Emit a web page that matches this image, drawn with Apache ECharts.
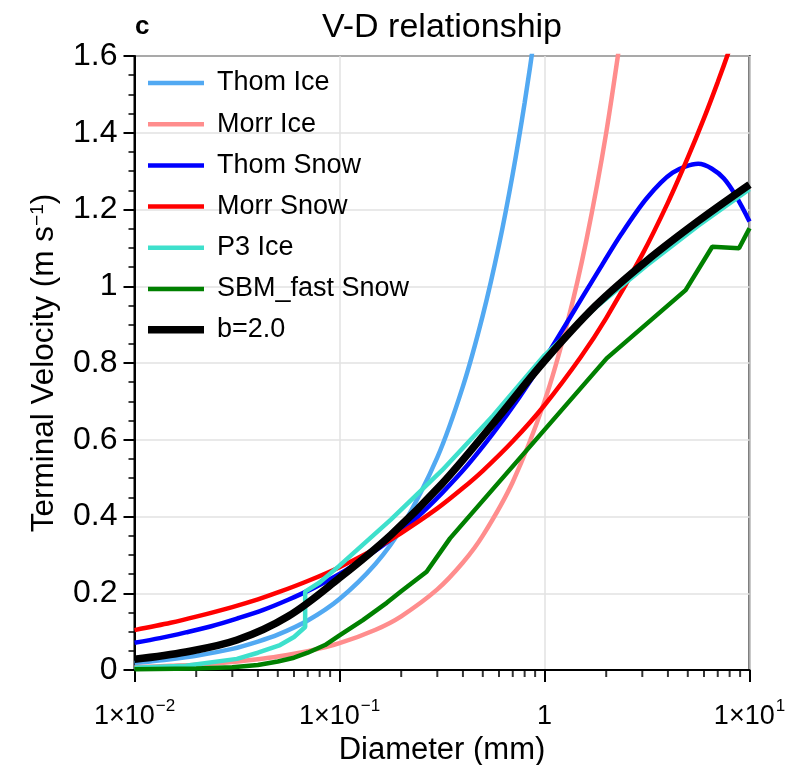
<!DOCTYPE html>
<html>
<head>
<meta charset="utf-8">
<script src="https://cdn.jsdelivr.net/npm/echarts@6/dist/echarts.min.js"></script>
<style>
  html, body { margin: 0; padding: 0; background: #fff; }
  #chart { width: 792px; height: 765px; }
</style>
</head>
<body>
<div id="chart"></div>
<script>
// Terminal fall speed (m/s) against particle diameter (mm) for several schemes.
const thomIceD = [0.01, 0.015, 0.02, 0.03, 0.04, 0.05, 0.07, 0.1, 0.15, 0.2, 0.3, 0.4, 0.5, 0.6, 0.7, 0.8, 0.9, 1.0];
const thomIceV = [0.018, 0.028, 0.037, 0.055, 0.074, 0.092, 0.129, 0.185, 0.277, 0.369, 0.554, 0.739, 0.924, 1.108, 1.293, 1.478, 1.663, 1.848];

const morrIceD = [0.01, 0.015, 0.02, 0.03, 0.04, 0.05, 0.07, 0.1, 0.15, 0.2, 0.3, 0.4, 0.5, 0.7, 1.0, 1.3, 1.6, 2.0, 2.5];
const morrIceV = [0.007, 0.011, 0.014, 0.021, 0.028, 0.035, 0.049, 0.07, 0.105, 0.14, 0.21, 0.28, 0.35, 0.49, 0.70, 0.91, 1.12, 1.40, 1.75];

const thomSnowD = [0.01, 0.0133, 0.0178, 0.0237, 0.0316, 0.0422, 0.0562, 0.075, 0.1, 0.133, 0.178, 0.237, 0.316, 0.422, 0.562, 0.75,
                   1.0, 1.33, 1.78, 2.37, 3.16, 4.22, 5.62, 7.5, 10];
const thomSnowV = [0.071, 0.083, 0.098, 0.114, 0.134, 0.156, 0.183, 0.214, 0.250, 0.292, 0.340, 0.396, 0.461, 0.534, 0.617, 0.709,
                   0.810, 0.918, 1.029, 1.136, 1.230, 1.296, 1.319, 1.281, 1.169];

const morrSnowD = [0.01, 0.015, 0.02, 0.03, 0.04, 0.05, 0.07, 0.1, 0.15, 0.2, 0.3, 0.4, 0.5, 0.7, 1.0, 1.5, 2, 3, 4, 5, 6, 7, 8, 9];
const morrSnowV = [0.104, 0.123, 0.139, 0.164, 0.184, 0.202, 0.232, 0.268, 0.317, 0.357, 0.421, 0.474, 0.519, 0.596, 0.690, 0.815, 0.917, 1.083, 1.218, 1.335, 1.438, 1.532, 1.618, 1.699];

const p3IceD = [0.01, 0.0178, 0.0316, 0.04, 0.0513, 0.06, 0.068, 0.068, 0.08, 0.1, 0.178, 0.316, 0.562, 1.0, 1.78, 3.16, 5.62, 10];
const p3IceV = [0.006, 0.011, 0.029, 0.045, 0.065, 0.086, 0.112, 0.204, 0.228, 0.272, 0.392, 0.520, 0.663, 0.820, 0.945, 1.055, 1.158, 1.253];

const sbmSnowD = [0.01, 0.02, 0.03, 0.04, 0.05, 0.06, 0.07, 0.085, 0.1, 0.13, 0.17, 0.2, 0.266, 0.346, 2.01, 4.88, 6.58, 8.89, 10];
const sbmSnowV = [0.002, 0.004, 0.007, 0.013, 0.022, 0.032, 0.045, 0.065, 0.09, 0.13, 0.175, 0.205, 0.256, 0.343, 0.812, 0.990, 1.103, 1.099, 1.151];

const b2D = [0.01, 0.0178, 0.0316, 0.0562, 0.1, 0.178, 0.316, 0.562, 1.0, 1.78, 3.16, 5.62, 10];
const b2V = [0.028, 0.047, 0.078, 0.140, 0.240, 0.352, 0.485, 0.642, 0.805, 0.950, 1.067, 1.170, 1.265];

const yTicks = [0, 0.2, 0.4, 0.6, 0.8, 1.0, 1.2, 1.4, 1.6];
const xDecadeLabels = { '0.01': ['1\u00d710', '\u22122'], '0.1': ['1\u00d710', '\u22121'], '1': ['1', ''], '10': ['1\u00d710', '1'] };
const xMinorTicks = [0.02, 0.03, 0.04, 0.05, 0.06, 0.07, 0.08, 0.09,
                     0.2, 0.3, 0.4, 0.5, 0.6, 0.7, 0.8, 0.9,
                     2, 3, 4, 5, 6, 7, 8, 9];

const FONT = '"Liberation Sans", Arial, Helvetica, sans-serif';

function pairs(d, v) { return d.map((x, i) => [x, v[i]]); }

const seriesDefs = [
  { name: 'Thom Ice', d: thomIceD, v: thomIceV, color: '#52a9f2', width: 4.5, smooth: 0.3 },
  { name: 'Morr Ice', d: morrIceD, v: morrIceV, color: '#ff8d8d', width: 4.5, smooth: 0.3 },
  { name: 'Thom Snow', d: thomSnowD, v: thomSnowV, color: '#0000ff', width: 4.5, smooth: 0.3 },
  { name: 'Morr Snow', d: morrSnowD, v: morrSnowV, color: '#ff0000', width: 4.5, smooth: 0.3 },
  { name: 'P3 Ice', d: p3IceD, v: p3IceV, color: '#3ee0cc', width: 4.5, smooth: false },
  { name: 'SBM_fast Snow', d: sbmSnowD, v: sbmSnowV, color: '#008000', width: 4.5, smooth: false },
  { name: 'b=2.0', d: b2D, v: b2V, color: '#000000', width: 7.5, smooth: 0.35 }
];

const legendText = { fontFamily: FONT, fontSize: 27, color: '#000', lineHeight: 30, padding: [0, 0, 0, 8] };

const chart = echarts.init(document.getElementById('chart'), null, { renderer: 'canvas' });

const lineSeries = seriesDefs.map(s => ({
  name: s.name, type: 'line',
  data: pairs(s.d, s.v),
  showSymbol: false, symbol: 'none', clip: true,
  smooth: s.smooth,
  color: s.color,
  lineStyle: { color: s.color, width: s.width },
  emphasis: { disabled: true }
}));

// short minor tick marks hanging below the log axis at 2..9 of each decade
const minorTickSeries = {
  type: 'scatter', clip: false,
  data: xMinorTicks.map(d => [d, 0]),
  symbol: 'rect', symbolSize: [2, 7], symbolOffset: [0, 3.5],
  itemStyle: { color: '#000' }
};

chart.setOption({
  backgroundColor: '#ffffff',
  animation: false,
  textStyle: { fontFamily: FONT },
  title: [
    { text: 'V-D relationship', left: 442, top: 11, textAlign: 'center', padding: 0,
      textStyle: { fontFamily: FONT, fontSize: 34, fontWeight: 'normal', color: '#000' } },
    { text: 'c', left: 135, top: 14, padding: 0,
      textStyle: { fontFamily: FONT, fontSize: 26, fontWeight: 'bold', color: '#000' } }
  ],
  grid: { left: 134.5, right: 42.5, top: 56, bottom: 95, show: true, borderColor: '#000', borderWidth: 2,
          containLabel: false, outerBoundsMode: 'none' },
  legend: [
    {
      orient: 'vertical', left: 148, top: 68, padding: 0,
      icon: 'rect', itemWidth: 56, itemHeight: 4.5, itemGap: 11.2,
      textStyle: legendText,
      data: seriesDefs.slice(0, 6).map(s => s.name)
    },
    {
      orient: 'vertical', left: 148, top: 314.7, padding: 0,
      icon: 'rect', itemWidth: 56, itemHeight: 7.5, itemGap: 11.2,
      textStyle: legendText,
      data: [seriesDefs[6].name]
    }
  ],
  xAxis: {
    type: 'log', logBase: 10, min: 0.01, max: 10, position: 'bottom',
    name: 'Diameter (mm)', nameLocation: 'middle', nameGap: 61,
    nameTextStyle: { fontFamily: FONT, fontSize: 31, color: '#000' },
    axisLine: { show: true, lineStyle: { color: '#000', width: 2 } },
    axisTick: { show: true, inside: false, length: 12, lineStyle: { color: '#000', width: 2 } },
    splitLine: { show: true, lineStyle: { color: '#e2e2e2', width: 1.5 } },
    axisLabel: {
      margin: 28, color: '#000', fontFamily: FONT,
      formatter: function (val) {
        const key = String(Math.round(val * 100) / 100);
        const lab = xDecadeLabels[key];
        if (!lab) return '';
        return lab[1] ? '{b|' + lab[0] + '}{s|' + lab[1] + '}' : '{b|' + lab[0] + '}';
      },
      rich: {
        b: { fontFamily: FONT, fontSize: 27, color: '#000', verticalAlign: 'bottom', lineHeight: 32 },
        s: { fontFamily: FONT, fontSize: 17, color: '#000', verticalAlign: 'top', lineHeight: 32, padding: [0, 0, 12, 1] }
      }
    }
  },
  yAxis: {
    type: 'value', min: 0, max: 1.6, interval: 0.2,
    name: 'Terminal Velocity (m s{s|\u22121})', nameLocation: 'middle', nameGap: 74,
    nameTextStyle: {
      fontFamily: FONT, fontSize: 31.5, color: '#000',
      rich: { s: { fontFamily: FONT, fontSize: 19, color: '#000', verticalAlign: 'top', padding: [0, 0, 13, 0] } }
    },
    axisLine: { show: true, lineStyle: { color: '#000', width: 2 } },
    axisTick: { show: true, inside: false, length: 11, lineStyle: { color: '#000', width: 2 } },
    minorTick: { show: true, splitNumber: 4, length: 6, lineStyle: { color: '#000', width: 1.5 } },
    splitLine: { show: true, lineStyle: { color: '#e2e2e2', width: 1.5 } },
    axisLabel: {
      margin: 17, fontFamily: FONT, fontSize: 32, color: '#000',
      formatter: function (v) { return yTicks.some(t => Math.abs(t - v) < 1e-9) ? String(+v.toFixed(1)) : ''; }
    }
  },
  series: lineSeries.concat([minorTickSeries])
});
</script>
</body>
</html>
